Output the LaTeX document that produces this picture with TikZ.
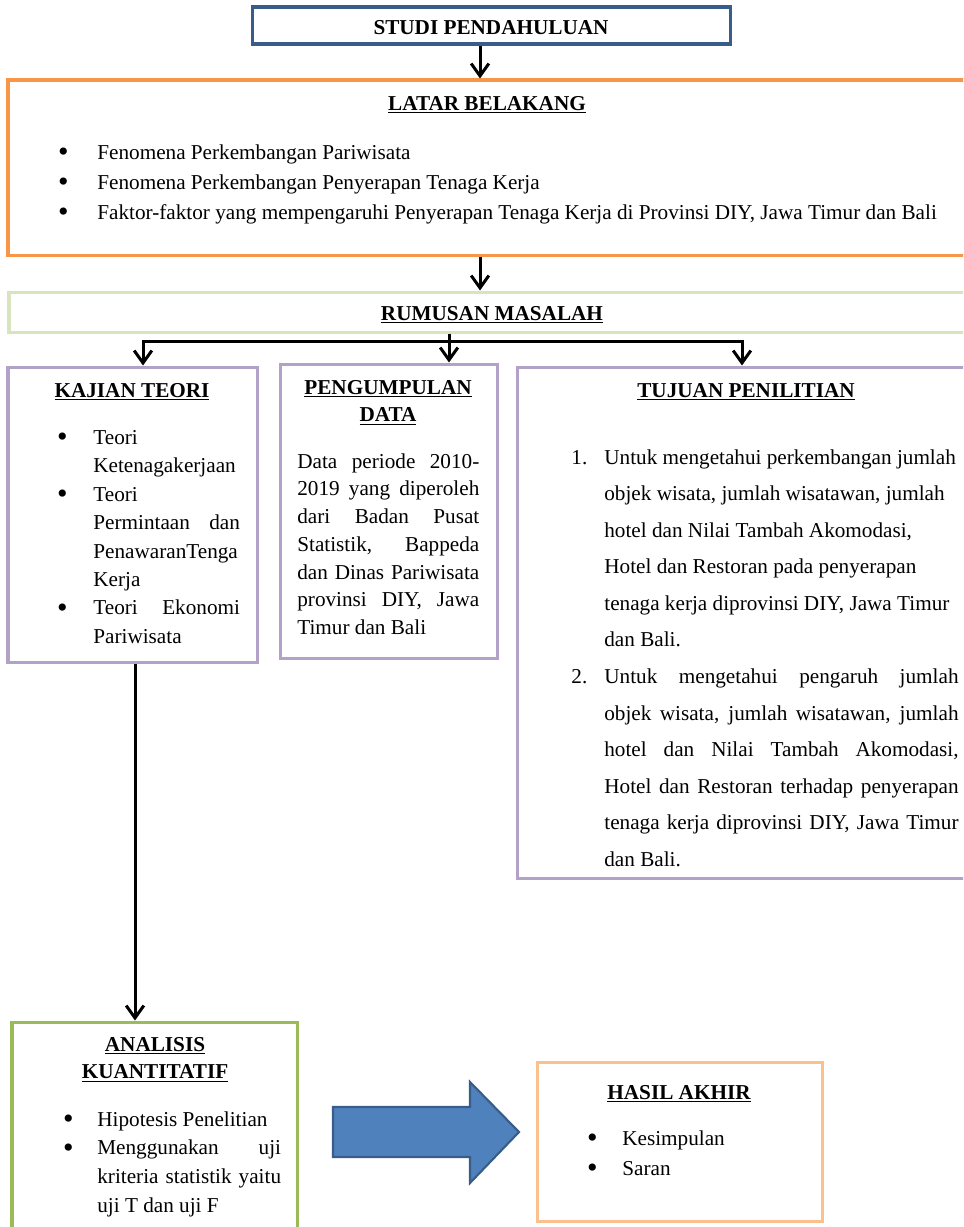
\documentclass[tikz,border=0pt]{standalone}
\usepackage{fontspec}
\setmainfont{Liberation Serif}
\usetikzlibrary{arrows.meta,fit}

\definecolor{studiblue}{HTML}{385D8A}
\definecolor{latarorange}{HTML}{F79646}
\definecolor{rumusgreen}{HTML}{D7E4BD}
\definecolor{ungu}{HTML}{B3A2C7}
\definecolor{hijau}{HTML}{9BBB59}
\definecolor{hasilorange}{HTML}{FAC090}
\definecolor{blokfill}{HTML}{4F81BD}

\newcommand\itm[1][14.5pt]{\noindent\llap{\raisebox{-1.2pt}{\fontsize{17}{17}\selectfont\textbullet}\hspace{#1}}\ignorespaces}
\newcommand\nomor[1]{\noindent\llap{#1.\hspace{9.6pt}}\ignorespaces}

\begin{document}
\begin{tikzpicture}[x=0.566pt,y=-0.566pt,
    box/.style={draw=#1, line width=1.7pt, inner sep=0pt},
    head/.style={font=\fontsize{12}{15.5}\selectfont\bfseries, anchor=base, inner sep=0pt, align=center},
    txt/.style={font=\fontsize{12}{#1}\selectfont, anchor=base west, inner sep=0pt, align=justify},
    arr/.style={line width=1.7pt, -{Straight Barb[length=7pt,width=10pt]}}]
  \useasboundingbox (0,0) rectangle (963,1227);
  \clip (0,0) rectangle (963,1227);

  % kotak
  \node[box=studiblue, fit={(252,7) (730,44)}] (studi) {};
  \node[box=latarorange, fit={(8,80) (975,255)}] (latar) {};
  \node[box=rumusgreen, fit={(9,292) (975,332)}] (rumusan) {};
  \node[box=ungu, fit={(8,367) (257,662)}] (kajian) {};
  \node[box=ungu, fit={(280,364) (497,658)}] (data) {};
  \node[box=ungu, fit={(517,367) (975,878)}] (tujuan) {};
  \node[box=hijau, fit={(12,1022) (297,1240)}] (analisis) {};
  \node[box=hasilorange, fit={(537,1062) (822,1221)}] (hasil) {};

  % judul
  \node[head] (studi-t) at (491,34) {STUDI PENDAHULUAN};
  \node[head] (latar-t) at (487,110) {\underline{LATAR BELAKANG}};
  \node[head] (rumusan-t) at (492,320) {\underline{RUMUSAN MASALAH}};
  \node[head] (kajian-t) at (132,397) {\underline{KAJIAN TEORI}};
  \node[head, text width=120pt] (data-t) at (388,394) {\underline{PENGUMPULAN}\\\underline{DATA}};
  \node[head] (tujuan-t) at (746,397) {\underline{TUJUAN PENILITIAN}};
  \node[head, text width=120pt] (analisis-t) at (155,1051) {\underline{ANALISIS}\\\underline{KUANTITATIF}};
  \node[head] (hasil-t) at (679,1099) {\underline{HASIL AKHIR}};

  % isi
  \node[txt=17pt, text width=500pt] (latar-i) at (97,159) {\itm[16.2pt] Fenomena Perkembangan Pariwisata
    \par\itm[16.2pt] Fenomena Perkembangan Penyerapan Tenaga Kerja
    \par\itm[16.2pt] Faktor-faktor yang mempengaruhi Penyerapan Tenaga Kerja di Provinsi DIY, Jawa Timur dan Bali};
  \node[txt=16.13pt, text width=83pt] (kajian-i) at (93,444) {\itm Teori\\ Ketenagakerjaan
    \par\itm Teori\\ Permintaan dan\linebreak PenawaranTenga\\ Kerja
    \par\itm Teori Ekonomi\linebreak Pariwisata};
  \node[txt=15.73pt, text width=103pt] (data-i) at (297,468) {Data periode 2010-\linebreak 2019 yang diperoleh\linebreak
    dari Badan Pusat\linebreak Statistik, Bappeda\linebreak dan Dinas Pariwisata\linebreak provinsi DIY, Jawa\linebreak Timur dan Bali};
  \node[txt=20.7pt, text width=200.5pt] (tujuan-i) at (604,464) {\nomor{1} Untuk mengetahui perkembangan jumlah\\
    objek wisata, jumlah wisatawan, jumlah\\ hotel dan Nilai Tambah Akomodasi,\\ Hotel dan Restoran pada penyerapan\\
    tenaga kerja diprovinsi DIY, Jawa Timur\\ dan Bali.
    \par\nomor{2} Untuk mengetahui pengaruh jumlah\linebreak objek wisata, jumlah wisatawan, jumlah\linebreak
    hotel dan Nilai Tambah Akomodasi,\linebreak Hotel dan Restoran terhadap penyerapan\linebreak
    tenaga kerja diprovinsi DIY, Jawa Timur\linebreak dan Bali.};
  \node[txt=16.4pt, text width=104pt] (analisis-i) at (97,1126) {\itm[13.4pt] Hipotesis Penelitian
    \par\itm[13.4pt] Menggunakan uji\linebreak kriteria statistik yaitu\linebreak uji T dan uji F};
  \node[txt=17pt, text width=100pt] (hasil-i) at (622,1145) {\itm[14pt] Kesimpulan \par\itm[14pt] Saran};

  % panah
  \coordinate (a1) at (480,0);
  \coordinate (cab) at (449,341);
  \coordinate (k) at (143,0);
  \coordinate (t) at (742,0);
  \coordinate (s) at (135,0);
  \draw[arr] (studi.south -| a1) -- (latar.north -| a1);
  \draw[arr] (latar.south -| a1) -- (rumusan.north -| a1);
  \draw[line width=1.7pt] (rumusan.south -| cab) -- (cab);
  \draw[arr] (cab) -| (kajian.north -| k);
  \draw[arr] (cab) -- (data.north -| cab);
  \draw[arr] (cab) -| (tujuan.north -| t);
  \draw[arr] (kajian.south -| s) -- (analisis.north -| s);

  \draw[fill=blokfill, draw=studiblue, line width=1.2pt] (333,1107) -- (470,1107) -- (470,1082) -- (519,1132)
    -- (470,1183) -- (470,1157) -- (333,1157) -- cycle;
\end{tikzpicture}
\end{document}
